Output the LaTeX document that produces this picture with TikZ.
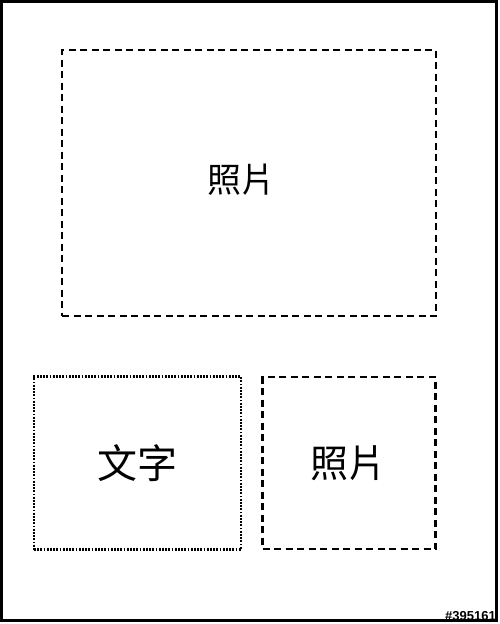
\documentclass[tikz,border=0pt]{standalone}
\usepackage{fontspec}
\newfontfamily\cjk{Noto Sans CJK TC}
\newfontfamily\tagfont{Liberation Sans}
\usetikzlibrary{positioning}

\begin{document}
\begin{tikzpicture}[
        x=1pt, y=-1pt,
        frame/.style={draw, line width=3.4pt},
        photobox/.style={rectangle, draw, line width=2.6pt, dash pattern=on 7pt off 4.5pt, inner sep=0pt},
        textbox/.style={rectangle, draw, line width=2.2pt, dash pattern=on 1.8pt off 1.4pt, inner sep=0pt},
        label/.style={font=\cjk}
    ]
        \useasboundingbox (0,0) rectangle (499,624);
        \draw[frame] (1.7,1.7) rectangle (496.3,620.3);

        \node[photobox, minimum width=374pt, minimum height=266pt] (photo1) at (249,183) {};
        \node[textbox, minimum width=207pt, minimum height=173pt] (text1) at (137.5,463) {};
        \node[photobox, minimum width=173pt, minimum height=172pt] (photo2) at (349,463) {};

        \node[label, font=\cjk\fontsize{34}{34}\selectfont] (photo1label) at (241.5,180) {照片};
        \node[label, font=\cjk\fontsize{40}{40}\selectfont] (text1label) at (137,463) {文字};
        \node[label, font=\cjk\fontsize{38}{38}\selectfont] (photo2label) at (348,463) {照片};

        \node[anchor=south east, inner sep=0pt, font=\tagfont\bfseries\fontsize{13}{13}\selectfont] (tag) at (496,621) {\#395161};
    \end{tikzpicture}
\end{document}
